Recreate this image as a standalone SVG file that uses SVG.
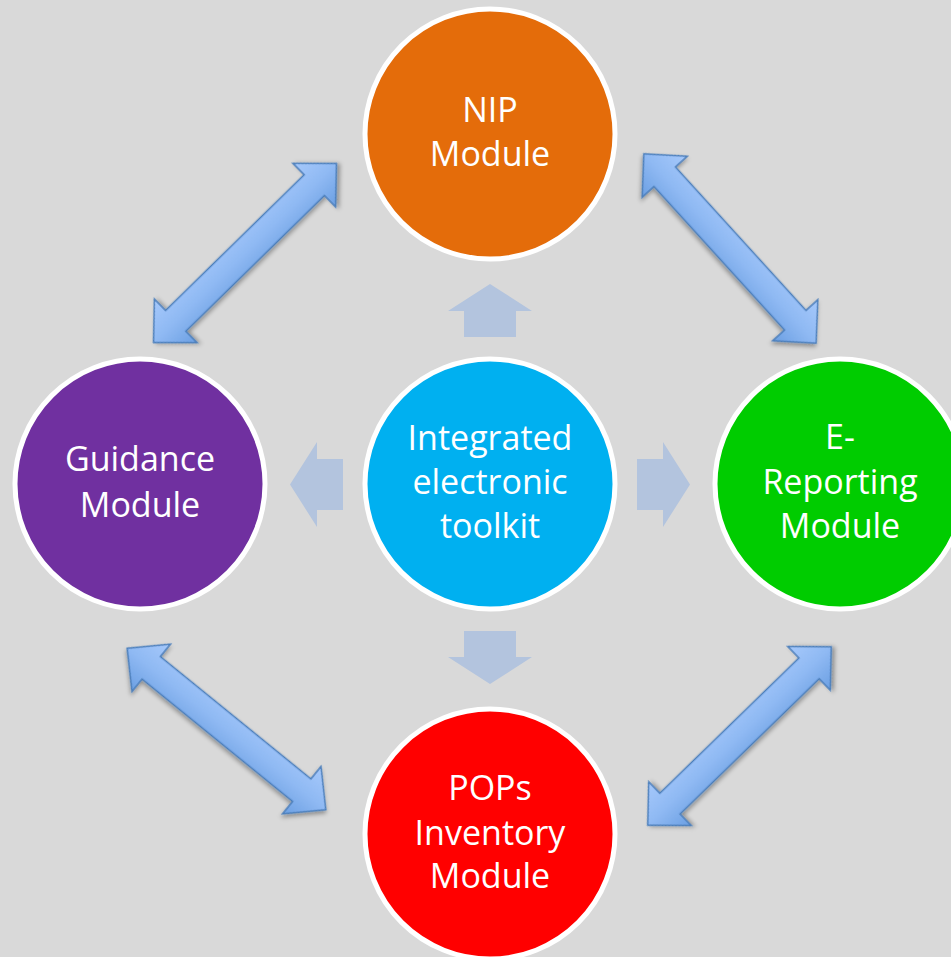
<svg xmlns="http://www.w3.org/2000/svg" width="951" height="957" viewBox="0 0 951 957">
<style>
.node{stroke:#ffffff;stroke-width:5}
.lbl{font-family:"Open Sans","Liberation Sans",sans-serif;font-size:34px;fill:#ffffff;text-anchor:middle}
.blk{fill:#b3c4de}
.dbl{fill:url(#ag);stroke:#4a7ebb;stroke-width:1.5;filter:url(#sh)}
</style>
<defs>
<linearGradient id="ag" x1="0" y1="0" x2="0" y2="1">
<stop offset="0" stop-color="#a6c9fb"/>
<stop offset="0.5" stop-color="#8fb9f3"/>
<stop offset="1" stop-color="#6b9fe2"/>
</linearGradient>
<filter id="sh" x="-20%" y="-40%" width="140%" height="180%">
<feDropShadow dx="1.5" dy="2.5" stdDeviation="2" flood-color="#000" flood-opacity="0.35"/>
</filter>
<polygon id="darrow" points="128,0 97,-30.5 97,-14.5 -97,-14.5 -97,-30.5 -128,0 -97,30.5 -97,14.5 97,14.5 97,30.5"/>
</defs>
<rect width="951" height="957" fill="#d9d9d9"/>
<g id="connectors">
<use href="#darrow" class="dbl" transform="translate(245,253) rotate(-44.4)"/>
<use href="#darrow" class="dbl" transform="translate(730,248.5) rotate(47.7)"/>
<use href="#darrow" class="dbl" transform="translate(226.5,729) rotate(39.1)"/>
<use href="#darrow" class="dbl" transform="translate(739.5,736) rotate(-44.2)"/>
<polygon class="blk" points="490,284 532,311 516,311 516,337 464,337 464,311 448,311"/>
<polygon class="blk" points="490,684 532,657 516,657 516,631 464,631 464,657 448,657"/>
<polygon class="blk" points="290,484.5 317,442 317,459 343,459 343,510 317,510 317,527"/>
<polygon class="blk" points="690,484.5 663,442 663,459 637,459 637,510 663,510 663,527"/>
</g>
<g id="nip">
<circle class="node" cx="490" cy="134" r="125" fill="#e46c0a"/>
<text class="lbl" x="490" y="122">NIP</text>
<text class="lbl" x="490" y="166">Module</text>
</g>
<g id="toolkit">
<circle class="node" cx="490" cy="484" r="125" fill="#00b0f0"/>
<text class="lbl" x="490" y="450">Integrated</text>
<text class="lbl" x="490" y="494">electronic</text>
<text class="lbl" x="490" y="538">toolkit</text>
</g>
<g id="guidance">
<circle class="node" cx="140" cy="484" r="125" fill="#7030a0"/>
<text class="lbl" x="140" y="471">Guidance</text>
<text class="lbl" x="140" y="517">Module</text>
</g>
<g id="ereporting">
<circle class="node" cx="840" cy="484" r="125" fill="#00cc00"/>
<text class="lbl" x="840" y="449">E-</text>
<text class="lbl" x="840" y="494">Reporting</text>
<text class="lbl" x="840" y="538">Module</text>
</g>
<g id="pops">
<circle class="node" cx="490" cy="834" r="125" fill="#ff0000"/>
<text class="lbl" x="490" y="800">POPs</text>
<text class="lbl" x="490" y="845">Inventory</text>
<text class="lbl" x="490" y="888">Module</text>
</g>
</svg>
